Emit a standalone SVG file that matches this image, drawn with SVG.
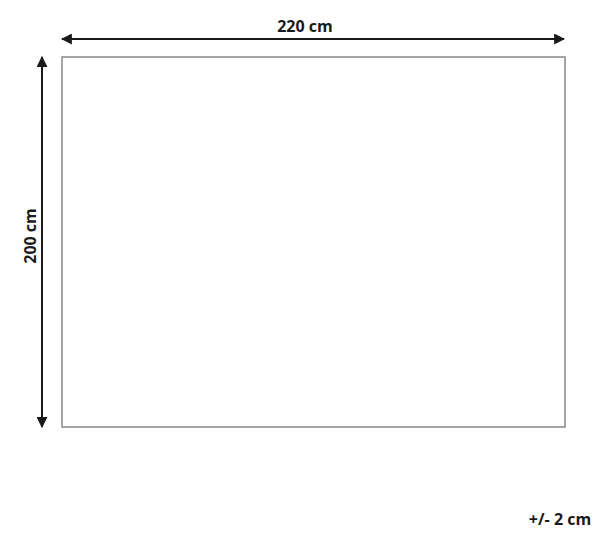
<svg xmlns="http://www.w3.org/2000/svg" width="600" height="534" viewBox="0 0 600 534">
<style>
.lbl{font-family:"Open Sans","Liberation Sans",sans-serif;font-weight:bold;font-size:16px;fill:#1a1a1a}
.dim{stroke:#1a1a1a;stroke-width:2;fill:none}
</style>
<defs>
<marker id="ah" viewBox="0 0 10 10" refX="9" refY="5" markerWidth="5.5" markerHeight="5.5" orient="auto-start-reverse" markerUnits="strokeWidth">
<path d="M0,0 L10,5 L0,10 z" fill="#1a1a1a"/>
</marker>
</defs>
<rect width="600" height="534" fill="#fff"/>
<g id="rug">
<rect x="62" y="57" width="503" height="370" fill="#fff" stroke="#888" stroke-width="1.5"/>
</g>
<g id="connectors">
<line class="dim" x1="62" y1="39" x2="564" y2="39" marker-start="url(#ah)" marker-end="url(#ah)"/>
<line class="dim" x1="42" y1="57" x2="42" y2="427" marker-start="url(#ah)" marker-end="url(#ah)"/>
</g>
<g id="labels">
<text class="lbl" x="305" y="32" text-anchor="middle">220 cm</text>
<text class="lbl" transform="translate(36,236) rotate(-90)" text-anchor="middle">200 cm</text>
<text class="lbl" x="560" y="525" text-anchor="middle" font-size="15">+/- 2 cm</text>
</g>
</svg>
